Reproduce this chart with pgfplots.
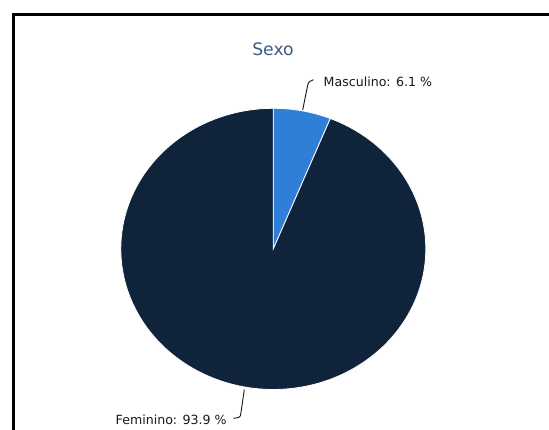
\documentclass[border=0pt]{standalone}
\usepackage{pgfplots}
\usepackage{pgfplotstable}
\pgfplotsset{compat=1.18}
\usepackage{fontspec}
\setmainfont{DejaVu Sans}
\definecolor{navy}{RGB}{15,36,59}
\definecolor{masc}{RGB}{47,127,217}
\definecolor{titlec}{RGB}{62,92,130}
\definecolor{labc}{RGB}{25,25,25}
\pgfplotstableread{
label value
Masculino 6.1
Feminino 93.9
}\sexdata
\begin{document}
\pgfplotstablegetelem{0}{value}\of\sexdata
\let\valA\pgfplotsretval
\begin{tikzpicture}
\begin{axis}[width=549bp, height=430bp, scale only axis,
  xmin=0, xmax=549, ymin=0, ymax=430, hide axis]
\fill[white] (axis cs:0,0) rectangle (axis cs:549,430);
% frame
\draw[black, line width=2.8bp] (axis cs:13.6,-5) -- (axis cs:13.6,415.3) -- (axis cs:560,415.3);
% pie
\addplot[fill=masc, draw=white, line width=0.8bp, domain=0:\valA, samples=40, variable=\t]
  ({273.3+152.5*sin(3.6*\t)}, {181.1+140.6*cos(3.6*\t)}) -- (axis cs:273.3,181.1) -- cycle;
\addplot[fill=navy, draw=white, line width=0.8bp, domain=\valA:100, samples=200, variable=\t]
  ({273.3+152.5*sin(3.6*\t)}, {181.1+140.6*cos(3.6*\t)}) -- (axis cs:273.3,181.1) -- cycle;
% leader lines
\draw[labc, line width=0.9bp] (axis cs:302.7,320) -- (axis cs:307.3,343) .. controls (axis cs:308.3,348) .. (axis cs:313.5,350.3);
\draw[labc, line width=0.9bp] (axis cs:244.3,40.5) -- (axis cs:240.9,17) .. controls (axis cs:240.2,12.5) .. (axis cs:233.3,11.7);
% labels
\node[anchor=base west, inner sep=0pt, text=labc, font=\fontsize{12.6bp}{15bp}\selectfont] at (axis cs:323.5,343.7) {Masculino: 6.1 \%};
\node[anchor=base east, inner sep=0pt, text=labc, font=\fontsize{12.6bp}{15bp}\selectfont] at (axis cs:226.8,6) {Feminino: 93.9 \%};
\node[anchor=base, inner sep=0pt, text=titlec, font=\fontsize{17.2bp}{20bp}\selectfont] at (axis cs:273,375) {Sexo};
\end{axis}
\end{tikzpicture}
\end{document}
